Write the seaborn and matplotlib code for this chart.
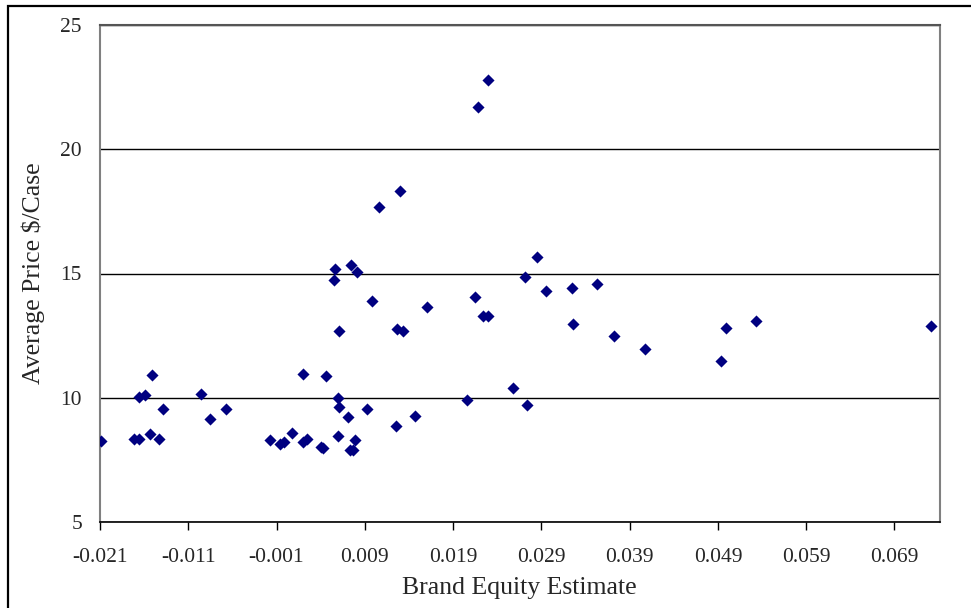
import numpy as np
import pandas as pd
import matplotlib
matplotlib.use('Agg')
import matplotlib.pyplot as plt
from matplotlib.patches import Rectangle
import seaborn as sns

# Data
brand_equity = [
    -0.0209, -0.0172, -0.0166, -0.0166, -0.0159, -0.0151, -0.0153, -0.0143, -0.0139,
    -0.0096, -0.0085, -0.0067, -0.0017, -0.0006, -0.0001, 0.0007, 0.0020, 0.0025,
    0.0020, 0.0040, 0.0043, 0.0046, 0.0060, 0.0061, 0.0060, 0.0071, 0.0079, 0.0073,
    0.0077, 0.0093, 0.0061, 0.0098, 0.0056, 0.0055, 0.0074, 0.0081, 0.0106, 0.0130,
    0.0126, 0.0133, 0.0125, 0.0147, 0.0160, 0.0206, 0.0215, 0.0224, 0.0230, 0.0218,
    0.0230, 0.0285, 0.0272, 0.0295, 0.0325, 0.0353, 0.0326, 0.0372, 0.0258, 0.0274,
    0.0407, 0.0499, 0.0533, 0.0493, 0.0731,
]
avg_price = [
    8.24, 8.35, 8.35, 10.05, 10.11, 10.90, 8.54, 8.35, 9.54,
    10.17, 9.14, 9.54, 8.29, 8.12, 8.20, 8.58, 8.23, 8.35,
    10.96, 8.02, 7.96, 10.89, 10.00, 9.61, 8.47, 9.21, 8.29, 7.90,
    7.90, 9.54, 12.70, 13.88, 15.20, 14.75, 15.36, 15.08, 17.67, 18.31,
    12.77, 12.70, 8.88, 9.26, 13.67, 9.89, 14.07, 13.28, 13.28, 21.71,
    22.77, 15.65, 14.85, 14.30, 14.41, 14.57, 12.98, 12.48, 10.39, 9.70,
    11.98, 12.82, 13.10, 11.46, 12.88,
]
x_ticks = [-0.021, -0.011, -0.001, 0.009, 0.019, 0.029, 0.039, 0.049, 0.059, 0.069]
y_ticks = [5, 10, 15, 20, 25]

df = pd.DataFrame({'Brand Equity Estimate': brand_equity, 'Average Price $/Case': avg_price})

sns.set_style('white')
plt.rcParams['font.family'] = ['Liberation Serif', 'DejaVu Serif']
plt.rcParams['axes.unicode_minus'] = False

fig = plt.figure(figsize=(9.71, 6.08), dpi=100)
ax = fig.add_axes([100 / 971, 1 - 522 / 608, 839.5 / 971, 497 / 608])

sns.scatterplot(data=df, x='Brand Equity Estimate', y='Average Price $/Case', ax=ax,
                marker='D', color='#000080', s=38, linewidth=0, zorder=3)

ax.set_xlim(-0.021, 0.0741)
ax.set_ylim(5, 25)
ax.set_xticks(x_ticks)
ax.set_xticklabels([f'{v:.3f}' for v in x_ticks])
ax.set_yticks(y_ticks)
ax.set_yticklabels([str(v) for v in y_ticks])

ax.yaxis.grid(True, color='black', linewidth=1.0)
ax.set_axisbelow(True)

ax.tick_params(axis='x', direction='out', length=6, width=1, color='black',
               pad=13, labelsize=15.5, bottom=True)
ax.tick_params(axis='y', length=0, pad=13, labelsize=15.5)

ax.spines['bottom'].set_color('black')
ax.spines['bottom'].set_linewidth(1.2)
ax.spines['left'].set_color('#808080')
ax.spines['left'].set_linewidth(1.5)
ax.spines['top'].set_color('#555555')
ax.spines['top'].set_linewidth(1.5)
ax.spines['right'].set_color('#808080')
ax.spines['right'].set_linewidth(1.5)

ax.set_xlabel('Brand Equity Estimate', fontsize=18.5, labelpad=7)
ax.set_ylabel('Average Price $/Case', fontsize=18.5, labelpad=11)

# outer chart border (left and top edges visible)
fig.patches.append(Rectangle((8 / 971, -0.5), 2, 0.5 + 1 - 6 / 608, transform=fig.transFigure,
                             fill=False, edgecolor='black', linewidth=1.6, clip_on=False))

fig.savefig('out.png', dpi=100)
